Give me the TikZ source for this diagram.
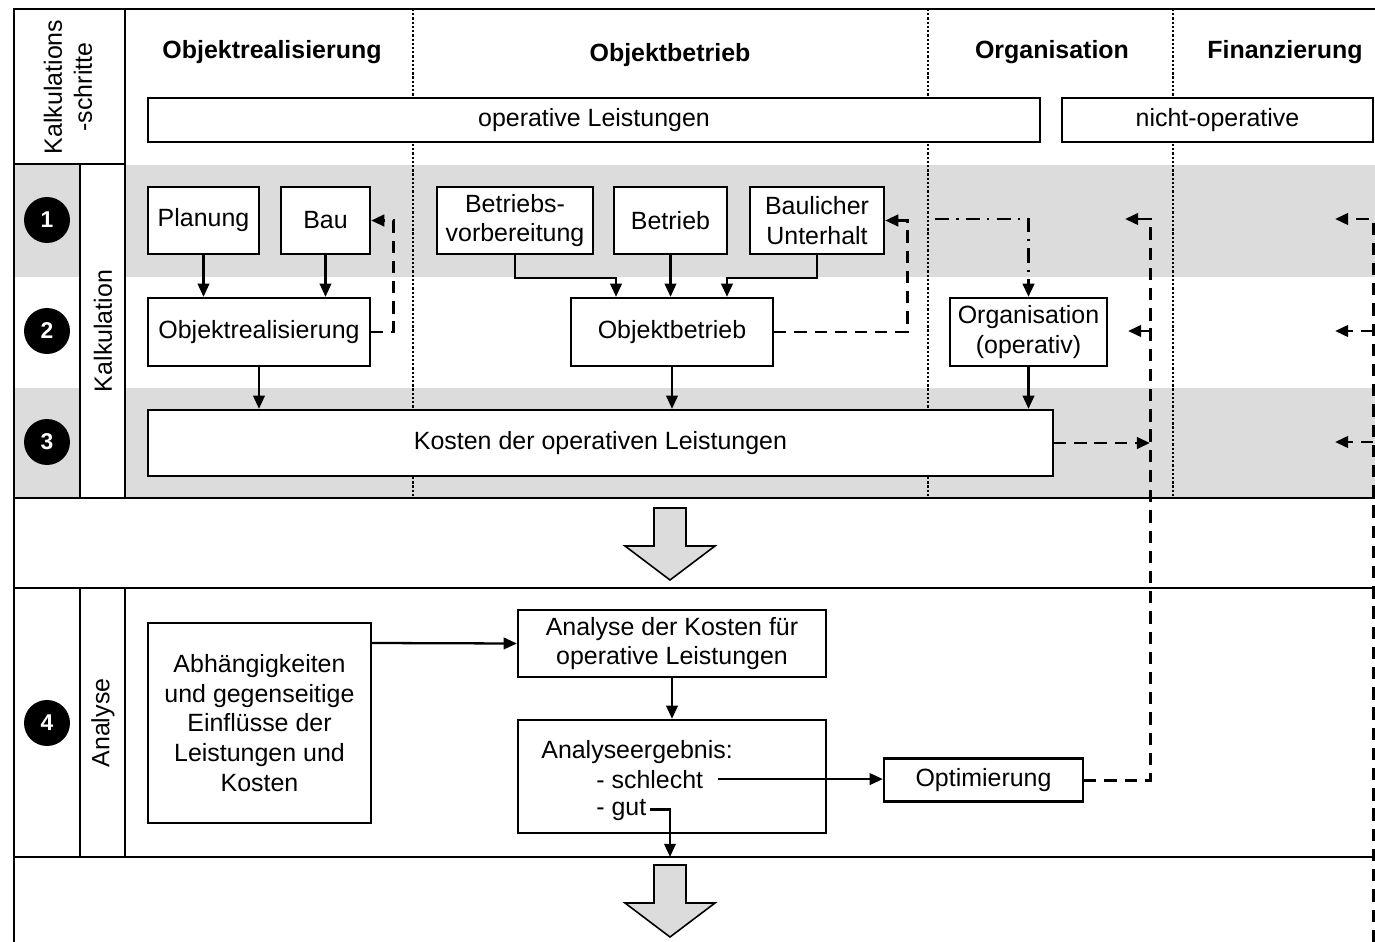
\documentclass[tikz,border=0pt]{standalone}
\usepackage{fontspec}
\setmainfont{Liberation Sans}
\usetikzlibrary{arrows.meta}
\newcommand{\lw}{1.3pt}
\newcommand{\fs}{\fontsize{14.2pt}{17pt}\selectfont}
\definecolor{bandgrey}{HTML}{DCDCDC}

\begin{document}
\begin{tikzpicture}[x=0.02cm,y=-0.02cm,font=\fs]
  \tikzset{
    box/.style={draw, line width=\lw, fill=white, align=center, inner sep=0pt},
    head/.style={font=\fs\bfseries},
    num/.style={circle, fill=black, text=white, inner sep=0pt, minimum size=0.92cm,
      font=\fontsize{13pt}{15pt}\selectfont\bfseries},
    frame/.style={line width=\lw},
    colsep/.style={line width=1.5pt, dash pattern=on 1.3pt off 1.1pt},
    arr/.style={line width=\lw, -{Triangle[length=7.5pt,width=6.5pt]}},
    dsh/.style={arr, line width=1.7pt, dash pattern=on 7pt off 4.5pt},
    dshdot/.style={arr, line width=1.6pt, dash pattern=on 8pt off 4pt on 1.5pt off 4pt},
    bigarr/.style={draw, line width=0.9pt, fill=bandgrey, line join=miter}
  }
  \useasboundingbox (0,0) rectangle (1375,942);
  \clip (0,0) rectangle (1375,942);
  %\draw[help lines, step=50] (0,0) grid (1375,942);

  % bands
  \fill[bandgrey] (14,165) rectangle (1375,277);
  \fill[bandgrey] (14,388) rectangle (1375,498);
  \fill[white] (80,164) rectangle (125,498);
  \foreach \cx in {413,928,1173}
    \draw[colsep] (\cx,9) -- (\cx,498);

  % frame
  \draw[frame] (1375,9) -- (14,9) -- (14,942);
  \draw[frame] (14,164) -- (125,164);
  \draw[frame] (125,9) -- (125,498);
  \draw[frame] (80,164) -- (80,498);
  \foreach \ry in {498,588,857}
    \draw[frame] (14,\ry) -- (1375,\ry);
  \draw[frame] (80,588) -- (80,857);
  \draw[frame] (125,588) -- (125,857);

  % left column
  \node[rotate=90, align=center] (kschr) at (68,87) {Kalkulations\\-schritte};
  \node[rotate=90] (kalk) at (103,331) {Kalkulation};
  \node[rotate=90] (anal) at (103,723) {Analyse};
  \foreach \n/\ny in {1/220,2/331,3/442,4/723}
    \node[num] (n\n) at (47,\ny) {\n};

  % headers
  \node[head] (hobjr) at (272,52) {Objektrealisierung};
  \node[head] (hobjb) at (670,55) {Objektbetrieb};
  \node[head] (horg) at (1052,52) {Organisation};
  \node[head] (hfin) at (1285,52) {Finanzierung};
  \node[box, minimum width=17.84cm, minimum height=0.88cm] (oper) at (594,120) {operative Leistungen};
  \node[box, minimum width=6.22cm, minimum height=0.88cm] (noper) at (1217.5,120) {nicht-operative};

  % calculation
  \node[box, minimum width=2.22cm, minimum height=1.34cm] (plan) at (203.5,220.5) {Planung};
  \node[box, minimum width=1.78cm, minimum height=1.34cm] (bau) at (325.5,220.5) {Bau};
  \node[box, minimum width=3.12cm, minimum height=1.34cm] (bvor) at (515,220.5) {Betriebs-\\vorbereitung};
  \node[box, minimum width=2.26cm, minimum height=1.34cm] (betr) at (670.5,220.5) {Betrieb};
  \node[box, minimum width=2.68cm, minimum height=1.34cm] (bunt) at (817,220.5) {Baulicher\\Unterhalt};
  \node[box, minimum width=4.44cm, minimum height=1.36cm] (objr) at (259,332) {Objektrealisierung};
  \node[box, minimum width=4.04cm, minimum height=1.36cm] (objb) at (672,332) {Objektbetrieb};
  \node[box, minimum width=3.14cm, minimum height=1.36cm] (org) at (1028.5,332) {Organisation\\(operativ)};
  \node[box, minimum width=18.1cm, minimum height=1.32cm] (kost) at (600.5,443) {Kosten der operativen Leistungen};

  \draw[arr] (plan) -- (plan |- objr.north);
  \draw[arr] (bau) -- (bau |- objr.north);
  \draw[arr] (bvor.south) -- ++(0,23) -| ([xshift=-1.12cm]objb.north);
  \draw[arr] (betr) -- (betr |- objb.north);
  \draw[arr] (bunt.south) -- ++(0,23) -| ([xshift=1.1cm]objb.north);
  \draw[arr] (objr) -- (objr |- kost.north);
  \draw[arr] (objb) -- (objb |- kost.north);
  \draw[arr] (org) -- (org |- kost.north);
  \draw[dsh] (objr.east) -- ++(22,0) |- (bau.east);
  \draw[dsh] (objb.east) -- ++(133,0) |- (bunt.east);

  \coordinate (ddst) at (935,219);
  \draw[dshdot] (ddst) -| (org.north);

  % feedback lines
  \coordinate (fa) at (1150,219);
  \coordinate (fa2) at (1125,219);
  \coordinate (fb) at (1150,331);
  \coordinate (fb2) at (1128,331);
  \coordinate (ga) at (1373,942);
  \coordinate (gb) at (1373,219);
  \coordinate (gb2) at (1335,219);
  \draw[dsh] (kost.east) -- (kost.east -| fa);
  \draw[arr, line width=1.7pt] (fb) -- (fb2);
  \draw[dsh] (ga) -- (gb) -- (gb2);
  \foreach \gy in {331,442}
    \draw[dsh] (1373,\gy) -- (1335,\gy);

  % analysis
  \node[box, minimum width=4.46cm, minimum height=4.0cm] (abh) at (259.5,723)
    {Abhängigkeiten\\und gegenseitige\\Einflüsse der\\Leistungen und\\Kosten};
  \node[box, minimum width=6.16cm, minimum height=1.34cm] (ana) at (672,643.5)
    {Analyse der Kosten für\\operative Leistungen};
  \node[box, minimum width=6.16cm, minimum height=2.26cm] (erg) at (672,776.5) {};
  \node[anchor=base west, inner sep=0pt] (ergt) at (541,758) {Analyseergebnis:};
  \node[anchor=base west, inner sep=0pt] (schl) at (596,788) {- schlecht};
  \node[anchor=base west, inner sep=0pt] (gut) at (596,815) {- gut};
  \node[box, minimum width=3.98cm, minimum height=0.86cm] (opt) at (983.5,780) {Optimierung};
  \coordinate (sep4) at (670,857);

  \draw[arr] (abh.east |- 0,643) -- (ana.west);
  \draw[arr] (ana) -- (ana |- erg.north);
  \draw[arr] ([xshift=0.3cm]schl.east) -- (schl.east -| opt.west);
  \draw[arr] ([xshift=0.06cm]gut.east) -| (sep4);
  \draw[dsh] (opt.east) -| (fa) -- (fa2);

  % big arrows
  \foreach \t in {508,865}
    \draw[bigarr] (654,\t) -- (686,\t) -- (686,\t+38) -- (715,\t+38) -- (670,\t+72)
      -- (625,\t+38) -- (654,\t+38) -- cycle;
\end{tikzpicture}
\end{document}
